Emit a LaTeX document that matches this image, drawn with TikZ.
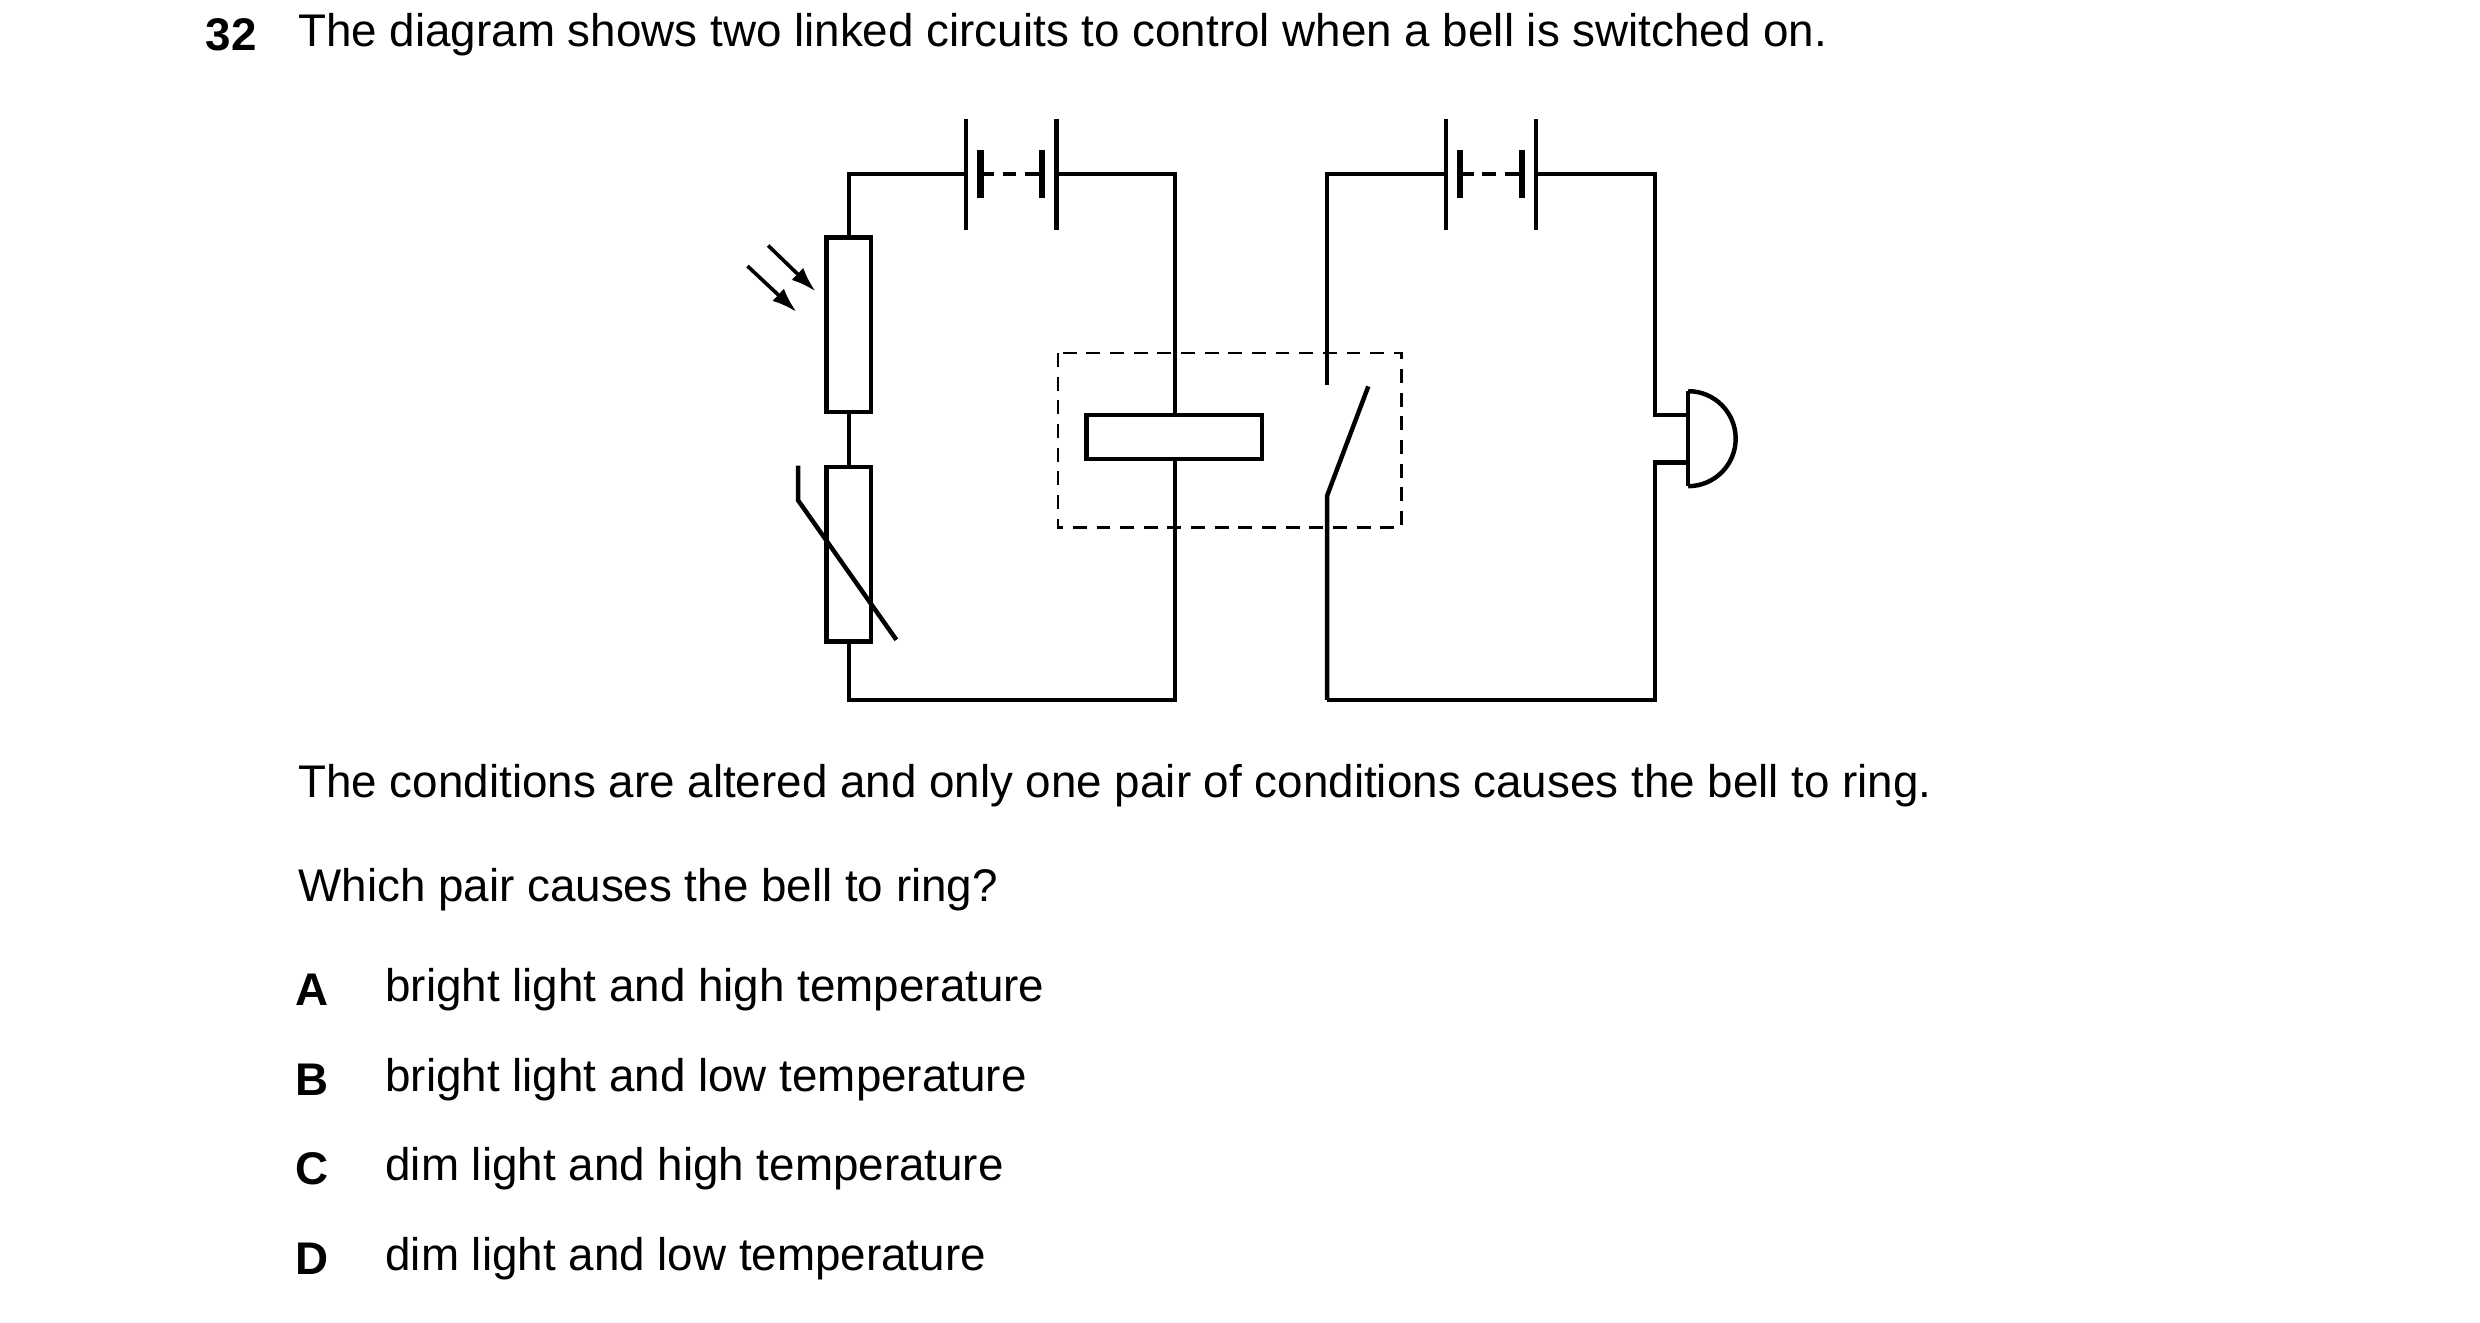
\documentclass[tikz,border=0pt]{standalone}
\usepackage{fontspec}
\setmainfont{Liberation Sans}
\usetikzlibrary{arrows.meta}
\begin{document}
\begin{tikzpicture}[x=0.02cm,y=-0.02cm,line width=1.6pt,
  txt/.style={anchor=west,font=\fontsize{16.45}{19}\selectfont,inner sep=0pt},
  lbl/.style={anchor=center,font=\fontsize{16.45}{19}\selectfont\bfseries,inner sep=0pt},
  dsh/.style={line width=0.9pt,dash pattern=on 5pt off 3.5pt},
  ray/.style={-{Latex[length=9pt,width=6pt]},line width=1.3pt}]
\useasboundingbox (0,0) rectangle (1566,835);
\node[lbl] (n) at (146,22) {32};
\node[txt] (t1) at (187,22) {The diagram shows two linked circuits to control when a bell is switched on.};
\node[txt] (t2) at (187,496) {The conditions are altered and only one pair of conditions causes the bell to ring.};
\node[txt] (t3) at (187,562) {Which pair causes the bell to ring?};
\foreach \l/\t/\y in {A/bright light and high temperature/625,B/bright light and low temperature/682,C/dim light and high temperature/738,D/dim light and low temperature/795}{
  \node[lbl] (L\l) at (197,\y) {\l};
  \node[txt] (T\l) at (242,\y) {\t};}
\newcommand{\mybatt}[1]{%
  \draw (#1,75) -- (#1,145);
  \draw[line width=2.4pt] (#1+9,95) -- (#1+9,125);
  \draw[line width=2.4pt] (#1+48,95) -- (#1+48,125);
  \draw (#1+57,75) -- (#1+57,145);
  \draw[line width=1.6pt,dash pattern=on 5pt off 3pt] (#1+9,110) -- (#1+48,110);}
% left circuit
\mybatt{610}
\draw (610,110) -- (536,110) -- (536,150);
\draw (522,150) rectangle (550,260);
\draw (536,260) -- (536,295);
\draw (522,295) rectangle (550,405);
\draw (536,405) -- (536,442) -- (742,442) -- (742,290);
\draw (667,110) -- (742,110) -- (742,262);
\draw (686,262) rectangle (797,290);
\draw (504,294) -- (504,316) -- (566,404);
\draw[ray] (485,155) -- (515,184);
\draw[ray] (472,168) -- (503,197);
\draw[dsh] (668,223) rectangle (885,333);
% right circuit
\mybatt{913}
\draw (913,110) -- (838,110) -- (838,243);
\draw (838,442) -- (838,313) -- (864,244);
\draw (838,442) -- (1045,442) -- (1045,292) -- (1066,292);
\draw (970,110) -- (1045,110) -- (1045,262) -- (1066,262);
\draw (1066,247) -- (1066,307);
\draw (1066,247) arc (-90:90:30);
\end{tikzpicture}
\end{document}
